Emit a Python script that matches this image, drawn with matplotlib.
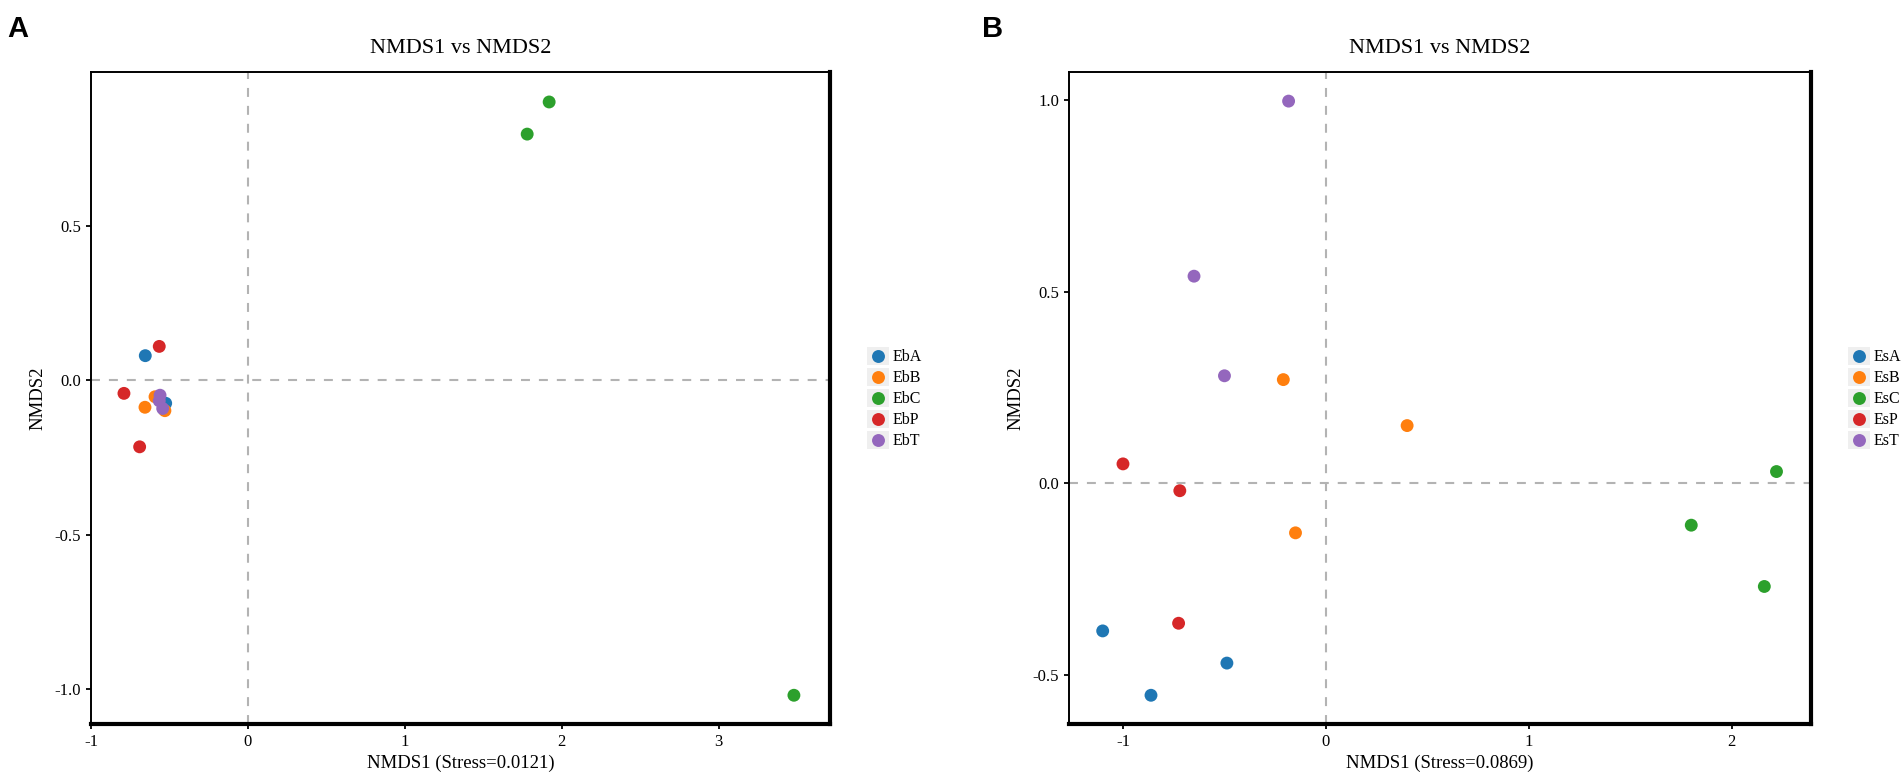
import matplotlib
matplotlib.use("Agg")
import matplotlib.pyplot as plt
from matplotlib.patches import Rectangle
from matplotlib.lines import Line2D
from matplotlib.legend_handler import HandlerBase

plt.rcParams['font.family'] = ['Liberation Serif', 'DejaVu Serif']
plt.rcParams['axes.unicode_minus'] = False

colors = ['#1f77b4', '#ff7f0e', '#2ca02c', '#d62728', '#9467bd']

# Panel A data
groups_a = ['EbA', 'EbB', 'EbC', 'EbP', 'EbT']
x_a = {
    'EbA': [-0.654, -0.524, -0.535],
    'EbB': [-0.656, -0.529, -0.592],
    'EbC': [1.78, 1.92, 3.48],
    'EbP': [-0.565, -0.79, -0.69],
    'EbT': [-0.56, -0.565, -0.543],
}
y_a = {
    'EbA': [0.079, -0.075, -0.095],
    'EbB': [-0.088, -0.099, -0.054],
    'EbC': [0.796, 0.90, -1.02],
    'EbP': [0.109, -0.043, -0.216],
    'EbT': [-0.049, -0.067, -0.092],
}
xlabel_a = 'NMDS1 (Stress=0.0121)'
xticks_a = [-1, 0, 1, 2, 3]
yticks_a = [-1.0, -0.5, 0.0, 0.5]

# Panel B data
groups_b = ['EsA', 'EsB', 'EsC', 'EsP', 'EsT']
x_b = {
    'EsA': [-1.10, -0.862, -0.488],
    'EsB': [-0.21, 0.40, -0.15],
    'EsC': [2.22, 1.80, 2.16],
    'EsP': [-1.00, -0.72, -0.726],
    'EsT': [-0.184, -0.65, -0.50],
}
y_b = {
    'EsA': [-0.386, -0.554, -0.470],
    'EsB': [0.27, 0.15, -0.13],
    'EsC': [0.03, -0.11, -0.27],
    'EsP': [0.05, -0.02, -0.366],
    'EsT': [0.997, 0.54, 0.28],
}
xlabel_b = 'NMDS1 (Stress=0.0869)'
xticks_b = [-1, 0, 1, 2]
yticks_b = [-0.5, 0.0, 0.5, 1.0]

W, H = 1904, 779
fig = plt.figure(figsize=(W / 100, H / 100), dpi=100)


class KeyHandler(HandlerBase):
    def create_artists(self, legend, orig_handle, xdescent, ydescent,
                       width, height, fontsize, trans):
        rect = Rectangle((-xdescent, -ydescent), width, height,
                         facecolor='#efefef', edgecolor='none', transform=trans)
        m = Line2D([-xdescent + width / 2], [-ydescent + height / 2],
                   marker='o', linestyle='none', markersize=9.3,
                   markerfacecolor=orig_handle.get_markerfacecolor(),
                   markeredgecolor='none', transform=trans)
        return [rect, m]


def panel(rect_px, groups, xs, ys, xlim, ylim, xticks, yticks, xlabel,
          letter, letter_px, legend_px):
    l, r, t, b = rect_px
    ax = fig.add_axes([l / W, 1 - b / H, (r - l) / W, (b - t) / H])
    ax.axvline(0, color='#b3b3b3', lw=1.5, dashes=(4.3, 4.3), zorder=1)
    ax.axhline(0, color='#b3b3b3', lw=1.5, dashes=(4.3, 4.3), zorder=1)
    handles = []
    for g, c in zip(groups, colors):
        ax.scatter(xs[g], ys[g], s=86, color=c, edgecolors='none', zorder=3)
        handles.append(Line2D([], [], marker='o', linestyle='none',
                              markerfacecolor=c, markeredgecolor='none'))
    ax.set_xlim(*xlim)
    ax.set_ylim(*ylim)
    ax.set_xticks(xticks)
    ax.set_xticklabels([str(v) for v in xticks])
    ax.set_yticks(yticks)
    ax.set_yticklabels(['%.1f' % v for v in yticks])
    for s in ['left', 'top']:
        ax.spines[s].set_linewidth(1.4)
    for s in ['bottom', 'right']:
        ax.spines[s].set_linewidth(3.0)
    ax.tick_params(axis='both', direction='out', length=3.8, width=1.3,
                   labelsize=12, pad=3.5, colors='black')
    ax.set_title('NMDS1 vs NMDS2', fontsize=16, pad=14)
    ax.set_xlabel(xlabel, fontsize=13.5, labelpad=3)
    ax.set_ylabel('NMDS2', fontsize=13.5, labelpad=6)
    fig.text(letter_px[0] / W, 1 - letter_px[1] / H, letter,
             family='Liberation Sans', fontweight='bold', fontsize=21,
             ha='left', va='top')
    ax.legend(handles, groups, loc='center left',
              bbox_to_anchor=(legend_px[0] / W, 1 - legend_px[1] / H),
              bbox_transform=fig.transFigure, frameon=False,
              fontsize=11.5, handlelength=1.4, handleheight=1.4,
              labelspacing=0.15, handletextpad=0.2, borderpad=0,
              borderaxespad=0, handler_map={Line2D: KeyHandler()})
    return ax


panel((91, 830, 72, 724), groups_a, x_a, y_a, (-1.0, 3.71), (-1.113, 0.997),
      xticks_a, yticks_a, xlabel_a, 'A', (7, 15), (867, 398))
panel((1069, 1811, 72, 724), groups_b, x_b, y_b, (-1.266, 2.39), (-0.629, 1.073),
      xticks_b, yticks_b, xlabel_b, 'B', (982, 15), (1848, 398))

fig.savefig('out.png', dpi=100)
